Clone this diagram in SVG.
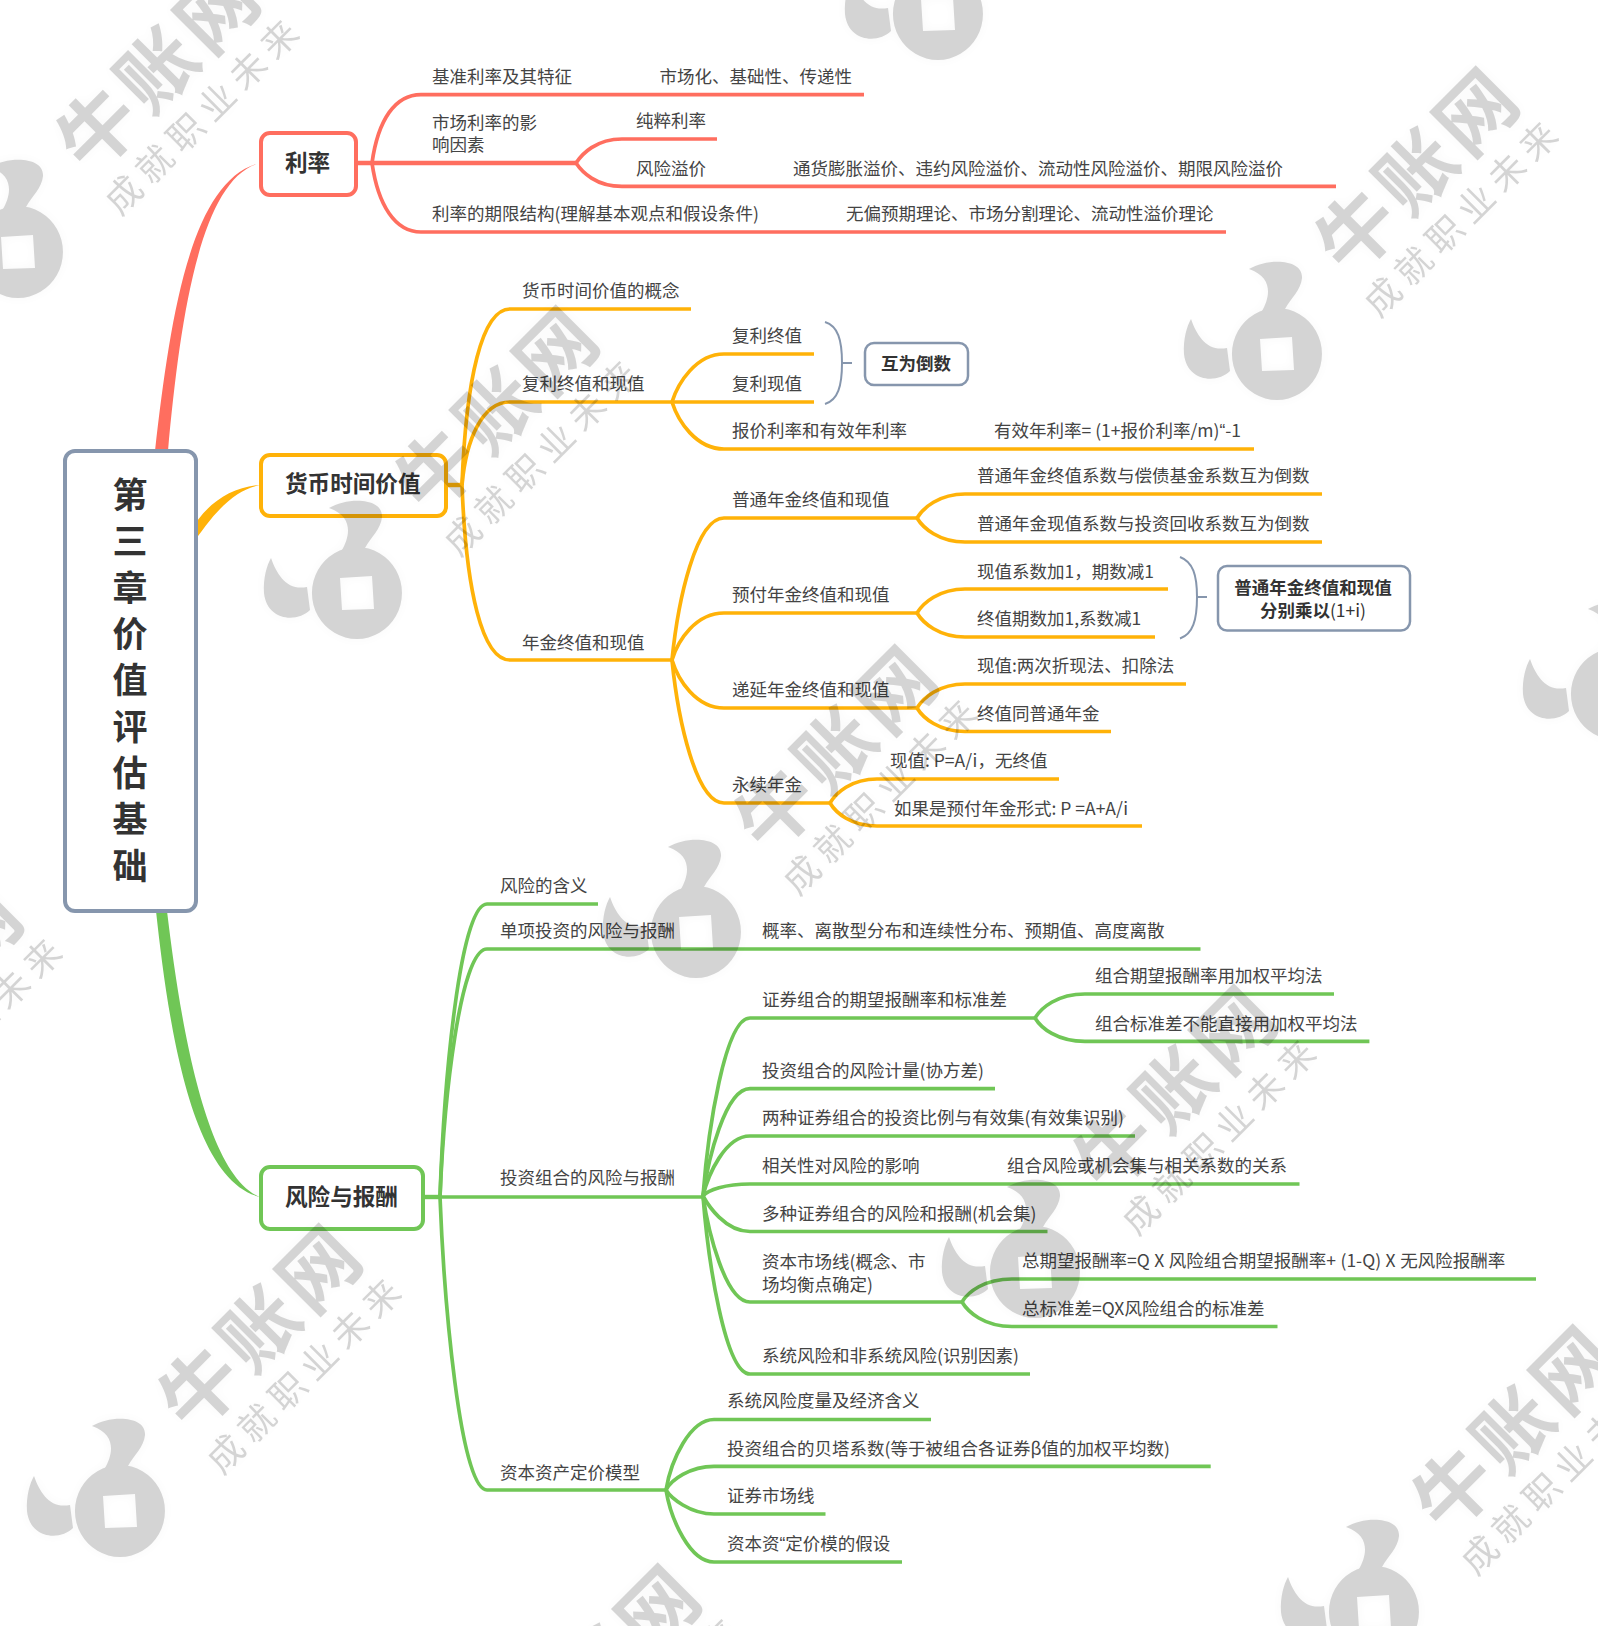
<svg xmlns="http://www.w3.org/2000/svg" xmlns:xlink="http://www.w3.org/1999/xlink" width="1598" height="1626" viewBox="0 0 1598 1626">
<style>
text{font-family:"Noto Sans CJK SC","Liberation Sans",sans-serif;}
.t{font-size:17.5px;fill:#444;}
.q{font-family:"Liberation Sans",sans-serif;}
.h{font-size:22.6px;font-weight:700;fill:#333;}
.s{font-size:17.5px;font-weight:700;fill:#333;text-anchor:middle;}
.r{font-size:35px;font-weight:700;fill:#333;text-anchor:middle;}
.c{fill:none;stroke-width:3.7;stroke-linecap:butt;}
.red{stroke:#ff6e5f;}.or{stroke:#ffb208;}.gr{stroke:#70c656;}.br{fill:none;stroke:#8696ad;stroke-width:2;}
.box{fill:#fff;stroke-width:4;}
.wm1{font-size:78px;font-weight:700;letter-spacing:6px;text-anchor:middle;}
.wm2{font-size:36px;letter-spacing:8px;text-anchor:middle;}
</style>
<defs>
<filter id="sh" x="-5%" y="-5%" width="110%" height="110%"><feGaussianBlur stdDeviation="6" result="b"/><feComponentTransfer in="b" result="c"><feFuncA type="linear" slope="0.18"/></feComponentTransfer><feMerge><feMergeNode in="c"/><feMergeNode in="SourceGraphic"/></feMerge></filter>
<g id="wm">
<path fill-rule="evenodd" d="M0,-46 A45,46 0 1 1 -0.1,-46 Z M-17,-15 L15,-17 L17,16 L-15,17 Z"/>
<path d="M-28,-85 C-10,-96 26,-96 25,-76 C24,-64 14,-56 8,-45 L-15,-43 C-8,-55 -2,-76 -28,-85 Z"/>
<path d="M-86,-35 C-80,-18 -70,-2 -50,-6 L-47,17 C-60,30 -90,28 -93,0 C-94,-15 -90,-28 -86,-35 Z"/>
<text class="wm1" transform="translate(142,-184) rotate(-45)" y="28">牛账网</text>
<text class="wm2" transform="translate(187,-137) rotate(-45)" y="12">成就职业未来</text>
</g>
</defs>
<rect width="1598" height="1626" fill="#fff"/>
<g id="connectors">
<path fill="#ff6e5f" d="M155,451 C170,320 190,180 260,163 C200,178 180,320 168,451 Z"/>
<path fill="#ffb208" d="M190,532 C205,505 230,487 260,485 C235,490 215,510 190,548 Z"/>
<path fill="#70c656" d="M156,911 C168,1020 190,1180 260,1197 C205,1175 180,1020 167,911 Z"/>
<g class="c red">
<path d="M356,163 H576" stroke-width="4.4"/>
<path d="M372,163 C378,120 395,94.6 421,94.6 H864"/>
<path d="M372,163 C378,205 395,232 421,232 H1226"/>
<path d="M576,163 C582,154 596,139 622,139 H717"/>
<path d="M576,163 C582,172 596,186.4 622,186.4 H1336"/>
</g>
<g class="c or">
<path d="M446,485 H462" stroke-width="4.4"/>
<path d="M462,485 C466,379 482,309 510,309 H691"/>
<path d="M462,485 C466,440 482,402 510,402 H672"/>
<path d="M462,485 C466,590 482,660 510,660 H672"/>
<path d="M672,402 H814"/>
<path d="M672,402 C678,383 696,354 724,354 H814"/>
<path d="M672,402 C678,421 696,449 724,449 H1254"/>
<path d="M672,660 C678,600 696,518 724,518 H917"/>
<path d="M672,660 C678,640 696,613 724,613 H917"/>
<path d="M672,660 C678,680 696,708 724,708 H917"/>
<path d="M672,660 C678,720 696,803 724,803 H830"/>
<path d="M917,518 C923,508 939,494 965,494 H1322"/>
<path d="M917,518 C923,528 939,542 965,542 H1322"/>
<path d="M917,613 C923,603 939,589 965,589 H1168"/>
<path d="M917,613 C923,623 939,637 965,637 H1155"/>
<path d="M917,708 C923,698 939,684 965,684 H1186"/>
<path d="M917,708 C923,718 939,731.5 965,731.5 H1111"/>
<path d="M830,803 C836,793 851,779 877,779 H1059"/>
<path d="M830,803 C836,813 851,826 877,826 H1142"/>
</g>
<g class="c gr">
<path d="M423,1197 H440" stroke-width="4.4"/>
<path d="M440,1197 C444,1080 460,904 487,904 H598"/>
<path d="M440,1197 C444,1100 460,949 487,949 H1200.5"/>
<path d="M440,1197 H703"/>
<path d="M440,1197 C444,1300 460,1490 487,1490 H666"/>
<path d="M703,1196 C708,1130 725,1018 750,1018 H1035"/>
<path d="M703,1196 C708,1160 725,1088.6 750,1088.6 H995"/>
<path d="M703,1196 C708,1175 725,1136 750,1136 H1135"/>
<path d="M703,1196 C708,1190 725,1184 750,1184 H1299.5"/>
<path d="M703,1196 C708,1205 725,1231.5 750,1231.5 H1047.5"/>
<path d="M703,1196 C708,1230 725,1302 750,1302 H962"/>
<path d="M703,1196 C708,1260 725,1374 750,1374 H1030"/>
<path d="M1035,1018 C1041,1008 1057,994 1085,994 H1334"/>
<path d="M1035,1018 C1041,1028 1057,1041.4 1085,1041.4 H1369.4"/>
<path d="M962,1302 C968,1292 984,1279 1012,1279 H1536"/>
<path d="M962,1302 C968,1312 984,1326.5 1012,1326.5 H1277.5"/>
<path d="M666,1490 C671,1460 690,1419.5 714,1419.5 H931"/>
<path d="M666,1490 C671,1480 690,1466.4 714,1466.4 H1210.7"/>
<path d="M666,1490 C671,1498 690,1514 714,1514 H825.5"/>
<path d="M666,1490 C671,1520 690,1562 714,1562 H902"/>
</g>
<path class="br" d="M825,322 C838,326 842,340 842,363 C842,386 838,400 825,404 M842,363 H852"/>
<path class="br" d="M1180,557 C1193,562 1197,575 1197,597 C1197,620 1193,634 1180,638.5 M1197,597 H1207"/>
</g>
<g id="root"><rect class="box" x="65" y="451" width="131" height="460" rx="10" stroke="#8696ad"/>
<text class="r" x="130" y="508">第</text><text class="r" x="130" y="554">三</text><text class="r" x="130" y="601">章</text><text class="r" x="130" y="647">价</text><text class="r" x="130" y="693">值</text><text class="r" x="130" y="740">评</text><text class="r" x="130" y="786">估</text><text class="r" x="130" y="832">基</text><text class="r" x="130" y="879">础</text></g>
<g id="n-lilv"><rect class="box" x="261" y="133" width="95" height="62" rx="9" stroke="#ff6e5f"/><text class="h" x="285" y="171">利率</text></g>
<g id="n-huobi"><rect class="box" x="261" y="455" width="185" height="61" rx="9" stroke="#ffb208"/><text class="h" x="285" y="492">货币时间价值</text></g>
<g id="n-fengxian"><rect class="box" x="261" y="1167" width="162" height="62" rx="9" stroke="#70c656"/><text class="h" x="285" y="1205">风险与报酬</text></g>
<g id="n-huwei"><rect x="865" y="343" width="103" height="42" rx="9" fill="#fff" stroke="#8696ad" stroke-width="2.5"/><text class="s" x="916" y="370">互为倒数</text></g>
<g id="n-chengyi"><rect x="1218" y="566" width="192" height="64.6" rx="9" fill="#fff" stroke="#8696ad" stroke-width="2.5"/><text class="s" x="1313" y="594">普通年金终值和现值</text><text class="s" x="1313" y="616.5">分别乘以<tspan font-weight="400">(1+i)</tspan></text></g>
<g id="labels" class="t">
<g id="t1"><text x="432" y="82.5">基准利率及其特征</text></g>
<g id="t2"><text x="659.5" y="82.5">市场化、基础性、传递性</text></g>
<g id="t3"><text x="432" y="129">市场利率的影</text><text x="432" y="151">响因素</text></g>
<g id="t4"><text x="636" y="127">纯粹利率</text></g>
<g id="t5"><text x="636" y="175">风险溢价</text></g>
<g id="t6"><text x="793" y="175">通货膨胀溢价、违约风险溢价、流动性风险溢价、期限风险溢价</text></g>
<g id="t7"><text x="432" y="220">利率的期限结构(理解基本观点和假设条件)</text></g>
<g id="t8"><text x="846" y="220">无偏预期理论、市场分割理论、流动性溢价理论</text></g>
<g id="t9"><text x="522" y="297">货币时间价值的概念</text></g>
<g id="t10"><text x="522" y="390">复利终值和现值</text></g>
<g id="t11"><text x="522" y="649">年金终值和现值</text></g>
<g id="t12"><text x="732" y="342">复利终值</text></g>
<g id="t13"><text x="732" y="390">复利现值</text></g>
<g id="t14"><text x="732" y="437">报价利率和有效年利率</text></g>
<g id="t15"><text x="994" y="437">有效年利率= (1+报价利率/m)<tspan class="q">“</tspan>-1</text></g>
<g id="t16"><text x="732" y="506">普通年金终值和现值</text></g>
<g id="t17"><text x="732" y="601">预付年金终值和现值</text></g>
<g id="t18"><text x="732" y="696">递延年金终值和现值</text></g>
<g id="t19"><text x="732" y="791">永续年金</text></g>
<g id="t20"><text x="977" y="482">普通年金终值系数与偿债基金系数互为倒数</text></g>
<g id="t21"><text x="977" y="530">普通年金现值系数与投资回收系数互为倒数</text></g>
<g id="t22"><text x="977" y="577.5">现值系数加1，期数减1</text></g>
<g id="t23"><text x="977" y="625">终值期数加1,系数减1</text></g>
<g id="t24"><text x="977" y="672">现值:两次折现法、扣除法</text></g>
<g id="t25"><text x="977" y="720">终值同普通年金</text></g>
<g id="t26"><text x="890" y="767">现值: P=A/i，无终值</text></g>
<g id="t27"><text x="894" y="815">如果是预付年金形式: P =A+A/i</text></g>
<g id="t28"><text x="500" y="892">风险的含义</text></g>
<g id="t29"><text x="500" y="937">单项投资的风险与报酬</text></g>
<g id="t30"><text x="762" y="937">概率、离散型分布和连续性分布、预期值、高度离散</text></g>
<g id="t31"><text x="500" y="1184">投资组合的风险与报酬</text></g>
<g id="t32"><text x="500" y="1479">资本资产定价模型</text></g>
<g id="t33"><text x="762" y="1006">证券组合的期望报酬率和标准差</text></g>
<g id="t34"><text x="1095" y="982">组合期望报酬率用加权平均法</text></g>
<g id="t35"><text x="1095" y="1030">组合标准差不能直接用加权平均法</text></g>
<g id="t36"><text x="762" y="1077">投资组合的风险计量(协方差)</text></g>
<g id="t37"><text x="762" y="1124">两种证券组合的投资比例与有效集(有效集识别)</text></g>
<g id="t38"><text x="762" y="1172">相关性对风险的影响</text></g>
<g id="t39"><text x="1007" y="1172">组合风险或机会集与相关系数的关系</text></g>
<g id="t40"><text x="762" y="1220">多种证券组合的风险和报酬(机会集)</text></g>
<g id="t41"><text x="762" y="1268">资本市场线(概念、市</text><text x="762" y="1291">场均衡点确定)</text></g>
<g id="t42"><text x="1022" y="1267" word-spacing="0.6">总期望报酬率=Q X 风险组合期望报酬率+ (1-Q) X 无风险报酬率</text></g>
<g id="t43"><text x="1022" y="1315">总标准差=QX风险组合的标准差</text></g>
<g id="t44"><text x="762" y="1362">系统风险和非系统风险(识别因素)</text></g>
<g id="t45"><text x="727" y="1407">系统风险度量及经济含义</text></g>
<g id="t46"><text x="727" y="1455">投资组合的贝塔系数(等于被组合各证券β值的加权平均数)</text></g>
<g id="t47"><text x="727" y="1502">证券市场线</text></g>
<g id="t48"><text x="727" y="1550">资本资<tspan class="q">“</tspan>定价模的假设</text></g>
</g>
<g id="watermarks" fill="#000" opacity="0.17" filter="url(#sh)">
<use href="#wm" x="18" y="252"/><use href="#wm" x="357" y="593"/><use href="#wm" x="696" y="932"/><use href="#wm" x="1035" y="1272"/><use href="#wm" x="1374" y="1612"/>
<use href="#wm" x="938" y="14"/><use href="#wm" x="1277" y="354"/><use href="#wm" x="1616" y="694"/>
<use href="#wm" x="120" y="1511"/><use href="#wm" x="-219" y="1171"/><use href="#wm" x="459" y="1851"/>
</g>
</svg>
